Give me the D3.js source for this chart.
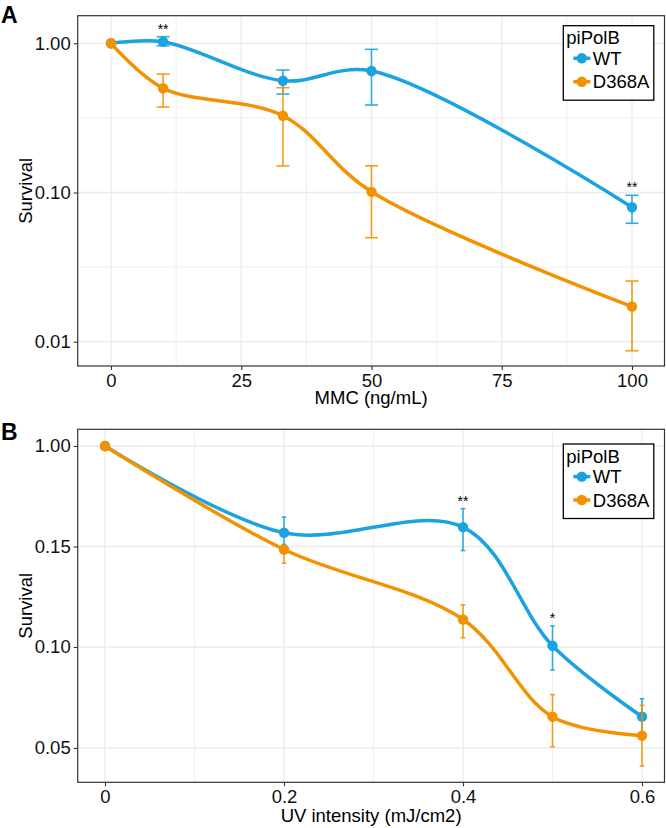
<!DOCTYPE html>
<html><head><meta charset="utf-8">
<script src="https://cdn.jsdelivr.net/npm/d3@7"></script>
<style>body{margin:0;background:#fff}text{font-family:"Liberation Sans",Arial,Helvetica,sans-serif}</style>
</head><body><svg id="c" width="666" height="828"></svg>
<script>
// ---------------- data ----------------
const seriesNames = ["WT", "D368A"];
const seriesColors = ["#1BA3E0", "#F39200"];
const legendTitle = "piPolB";

// Panel A: MMC
const mmcDose   = [0, 10, 33, 50, 100];
const mmcWT     = [1.00, 1.025, 0.561, 0.652, 0.0796];
const mmcWTLo   = [1.00, 0.963, 0.457, 0.386, 0.0622];
const mmcWTHi   = [1.00, 1.107, 0.662, 0.911, 0.0958];
const mmcMut    = [1.00, 0.500, 0.327, 0.101, 0.0172];
const mmcMutLo  = [1.00, 0.374, 0.1506, 0.0498, 0.0087];
const mmcMutHi  = [1.00, 0.622, 0.504, 0.151, 0.0255];
const mmcXTicks = [0, 25, 50, 75, 100];
const mmcXMinor = [12.5, 37.5, 62.5, 87.5];
const mmcYTicks = [0.01, 0.1, 1];
const mmcYLabels = ["0.01", "0.10", "1.00"];
const mmcYMinor = [Math.pow(10, -1.5), Math.pow(10, -0.5)];
const mmcSig = [{x: 10, label: "**"}, {x: 100, label: "**"}];

// Panel B: UV
const uvDose   = [0, 0.2, 0.4, 0.5, 0.6];
const uvWT     = [1.00, 0.2665, 0.314, 0.1006, 0.0655];
const uvWTLo   = [1.00, 0.167, 0.148, 0.0886, 0.0566];
const uvWTHi   = [1.00, 0.399, 0.470, 0.1105, 0.0744];
const uvMut    = [1.00, 0.1485, 0.1137, 0.0655, 0.0561];
const uvMutLo  = [1.00, 0.1417, 0.1046, 0.0506, 0.0411];
const uvMutHi  = [1.00, 0.1553, 0.121, 0.0764, 0.0711];
const uvXTicks = [0, 0.2, 0.4, 0.6];
const uvXLabels = ["0", "0.2", "0.4", "0.6"];
const uvXMinor = [0.1, 0.3, 0.5];
const uvYTicks = [0.05, 0.10, 0.15, 1.00];
const uvYLabels = ["0.05", "0.10", "0.15", "1.00"];
const uvSig = [{x: 0.4, label: "**"}, {x: 0.5, label: "*"}];

// ---------------- drawing ----------------
const svg = d3.select("#c");
const FS = 18.5;

function buildSeries(dose, vals, lo, hi) {
  return dose.map((d, i) => ({x: d, y: vals[i], lo: lo[i], hi: hi[i]}));
}

function drawPanel(cfg) {
  const {x, y, frame} = cfg;
  const g = svg.append("g");
  g.append("rect").attr("x", frame.l).attr("y", frame.t)
    .attr("width", frame.r - frame.l).attr("height", frame.b - frame.t).attr("fill", "#fff");
  const grid = g.append("g").attr("stroke", "#EBEBEB");
  cfg.xMinor.forEach(v => grid.append("line").attr("x1", x(v)).attr("x2", x(v))
    .attr("y1", frame.t).attr("y2", frame.b).attr("stroke-width", 0.8));
  (cfg.yMinor || []).forEach(v => grid.append("line").attr("y1", y(v)).attr("y2", y(v))
    .attr("x1", frame.l).attr("x2", frame.r).attr("stroke-width", 0.8));
  cfg.xTicks.forEach(v => grid.append("line").attr("x1", x(v)).attr("x2", x(v))
    .attr("y1", frame.t).attr("y2", frame.b).attr("stroke-width", 1.3));
  cfg.yTicks.forEach(v => grid.append("line").attr("y1", y(v)).attr("y2", y(v))
    .attr("x1", frame.l).attr("x2", frame.r).attr("stroke-width", 1.3));

  const xAxis = d3.axisBottom(x).tickValues(cfg.xTicks).tickSize(4).tickPadding(4)
    .tickFormat((d, i) => cfg.xLabels[i]);
  const ax = g.append("g").attr("transform", `translate(0,${frame.b})`).call(xAxis);
  const yAxis = d3.axisLeft(y).tickValues(cfg.yTicks).tickSize(4).tickPadding(3)
    .tickFormat((d, i) => cfg.yLabels[i]);
  const ay = g.append("g").attr("transform", `translate(${frame.l},0)`).call(yAxis);
  [ax, ay].forEach(a => {
    a.select(".domain").remove();
    a.selectAll(".tick line").attr("stroke", "#333").attr("stroke-width", 1.1);
    a.selectAll(".tick text").attr("fill", "#111").attr("font-size", FS)
      .attr("font-family", '"Liberation Sans", Arial, sans-serif');
  });

  g.append("rect").attr("x", frame.l).attr("y", frame.t)
    .attr("width", frame.r - frame.l).attr("height", frame.b - frame.t)
    .attr("fill", "none").attr("stroke", "#333").attr("stroke-width", 1.2);

  const clipId = "clip" + cfg.id;
  g.append("clipPath").attr("id", clipId).append("rect")
    .attr("x", frame.l).attr("y", frame.t).attr("width", frame.r - frame.l).attr("height", frame.b - frame.t);
  const plot = g.append("g").attr("clip-path", `url(#${clipId})`);

  const line = d3.line().x(d => x(d.x)).y(d => y(d.y)).curve(d3.curveCatmullRom.alpha(0.5));
  cfg.series.forEach((s, k) => {
    plot.append("path").datum(s).attr("d", line).attr("fill", "none")
      .attr("stroke", seriesColors[k]).attr("stroke-width", 3.5);
  });
  cfg.series.forEach((s, k) => {
    const eg = plot.append("g").attr("stroke", seriesColors[k]).attr("stroke-width", 1.6).attr("opacity", 0.9);
    s.filter(d => d.hi !== d.lo).forEach(d => {
      const cx = x(d.x);
      eg.append("line").attr("x1", cx).attr("x2", cx).attr("y1", y(d.hi)).attr("y2", y(d.lo));
      eg.append("line").attr("x1", cx - cfg.cap).attr("x2", cx + cfg.cap).attr("y1", y(d.hi)).attr("y2", y(d.hi));
      eg.append("line").attr("x1", cx - cfg.cap).attr("x2", cx + cfg.cap).attr("y1", y(d.lo)).attr("y2", y(d.lo));
    });
    plot.append("g").selectAll("circle").data(s).join("circle")
      .attr("cx", d => x(d.x)).attr("cy", d => y(d.y)).attr("r", 5.2).attr("fill", seriesColors[k]);
  });

  cfg.sig.forEach(sg => {
    const d = cfg.series[0].find(p => p.x === sg.x);
    g.append("text").attr("x", x(sg.x)).attr("y", y(d.hi) - 3).attr("text-anchor", "middle")
      .attr("font-size", 14).attr("fill", "#000").text(sg.label);
  });

  g.append("text").attr("x", (frame.l + frame.r) / 2).attr("y", cfg.xTitleY).attr("text-anchor", "middle")
    .attr("font-size", FS).attr("fill", "#000").text(cfg.xTitle);
  g.append("text").attr("transform", `translate(32,${(frame.t + frame.b) / 2}) rotate(-90)`)
    .attr("text-anchor", "middle").attr("font-size", FS).attr("fill", "#000").text("Survival");
  g.append("text").attr("x", 1).attr("y", cfg.tagY).attr("font-size", 23).attr("font-weight", "bold")
    .attr("fill", "#000").text(cfg.tag);

  const L = cfg.legend;
  const lg = g.append("g").attr("transform", `translate(${L.x},${L.y})`);
  lg.append("rect").attr("width", 90.5).attr("height", 74.5).attr("fill", "#fff")
    .attr("stroke", "#000").attr("stroke-width", 1.3);
  lg.append("text").attr("x", 3).attr("y", 18.5).attr("font-size", FS).attr("fill", "#000").text(legendTitle);
  seriesNames.forEach((nm, k) => {
    const cy = 32.6 + k * 23.4;
    lg.append("line").attr("x1", 10).attr("x2", 27).attr("y1", cy).attr("y2", cy)
      .attr("stroke", seriesColors[k]).attr("stroke-width", 3.5);
    lg.append("circle").attr("cx", 18.5).attr("cy", cy).attr("r", 5.2).attr("fill", seriesColors[k]);
    lg.append("text").attr("x", 29.5).attr("y", cy).attr("dy", "0.36em").attr("font-size", FS)
      .attr("fill", "#000").text(nm);
  });
}

const frameA = {l: 77.7, r: 664.5, t: 15.7, b: 366};
drawPanel({
  id: "A", tag: "A", tagY: 23,
  frame: frameA,
  x: d3.scaleLinear().domain([0, 100]).range([111, 632]),
  y: d3.scaleLog().domain([0.01, 1]).range([341.7, 43.3]),
  xTicks: mmcXTicks, xLabels: mmcXTicks.map(String), xMinor: mmcXMinor,
  yTicks: mmcYTicks, yLabels: mmcYLabels, yMinor: mmcYMinor,
  series: [buildSeries(mmcDose, mmcWT, mmcWTLo, mmcWTHi), buildSeries(mmcDose, mmcMut, mmcMutLo, mmcMutHi)],
  sig: mmcSig, cap: 6.5,
  xTitle: "MMC (ng/mL)", xTitleY: 403.5,
  legend: {x: 563.3, y: 25.7}
});

const frameB = {l: 77.7, r: 664.5, t: 429.3, b: 782.3};
drawPanel({
  id: "B", tag: "B", tagY: 440,
  frame: frameB,
  x: d3.scaleLinear().domain([0, 0.6]).range([105, 642]),
  y: d3.scaleLinear().domain(uvYTicks).range([748, 647, 546.5, 446]),
  xTicks: uvXTicks, xLabels: uvXLabels, xMinor: uvXMinor,
  yTicks: uvYTicks, yLabels: uvYLabels, yMinor: [],
  series: [buildSeries(uvDose, uvWT, uvWTLo, uvWTHi), buildSeries(uvDose, uvMut, uvMutLo, uvMutHi)],
  sig: uvSig, cap: 2.3,
  xTitle: "UV intensity (mJ/cm2)", xTitleY: 822,
  legend: {x: 563.3, y: 444}
});
</script></body></html>
